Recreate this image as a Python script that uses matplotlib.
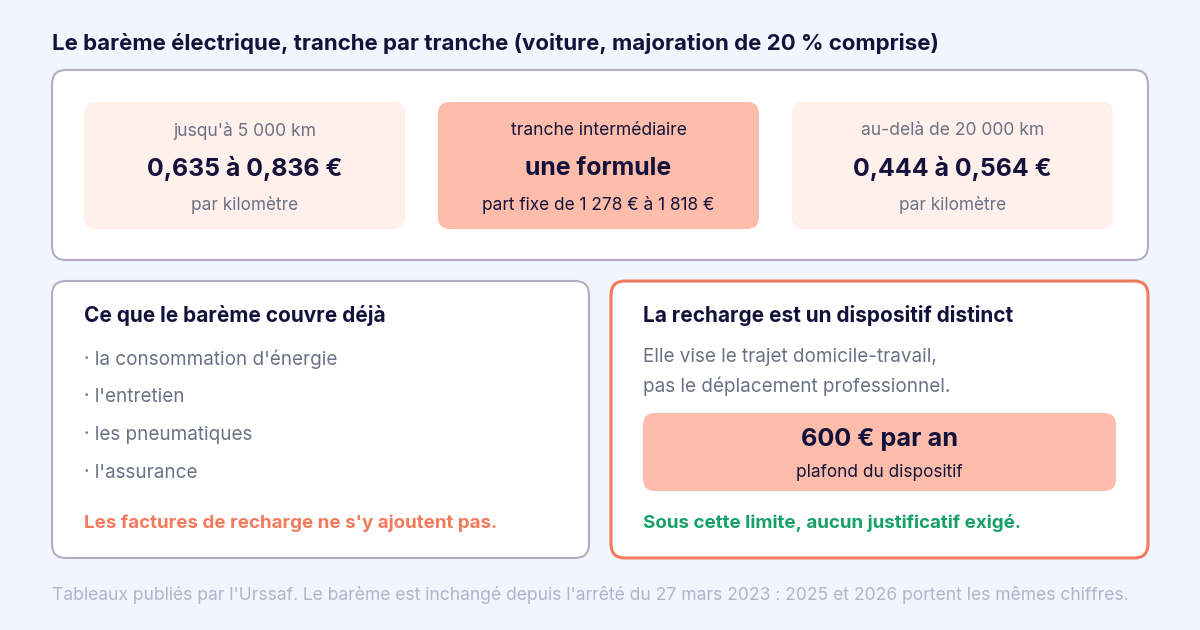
import matplotlib
matplotlib.use('Agg')
import matplotlib.pyplot as plt
from matplotlib.patches import FancyBboxPatch

plt.rcParams['font.family'] = ['Inter', 'DejaVu Sans']

title = "Le barème électrique, tranche par tranche (voiture, majoration de 20 % comprise)"
tile_labels = ["jusqu'à 5 000 km", "tranche intermédiaire", "au-delà de 20 000 km"]
tile_values = ["0,635 à 0,836 €", "une formule", "0,444 à 0,564 €"]
tile_subs = ["par kilomètre", "part fixe de 1 278 € à 1 818 €", "par kilomètre"]
covered_title = "Ce que le barème couvre déjà"
covered_items = ["la consommation d'énergie", "l'entretien", "les pneumatiques", "l'assurance"]
covered_note = "Les factures de recharge ne s'y ajoutent pas."
recharge_title = "La recharge est un dispositif distinct"
recharge_lines = ["Elle vise le trajet domicile-travail,", "pas le déplacement professionnel."]
cap_value = "600 € par an"
cap_label = "plafond du dispositif"
recharge_note = "Sous cette limite, aucun justificatif exigé."
footer = ("Tableaux publiés par l'Urssaf. Le barème est inchangé depuis l'arrêté du "
          "27 mars 2023 : 2025 et 2026 portent les mêmes chiffres.")

NAVY = '#14123a'
GRAY = '#6b7185'
BORDER = '#b3acc3'
ORANGE = '#f37a5c'
SALMON = '#febcab'
PINK = '#fff0ec'
GREEN = '#16a06a'

fig = plt.figure(figsize=(12, 6.3), dpi=100)
fig.patch.set_facecolor('#f1f5fe')
ax = fig.add_axes([0, 0, 1, 1])
ax.set_xlim(0, 1200)
ax.set_ylim(630, 0)
ax.axis('off')


def box(x0, y0, x1, y1, fc, ec='none', lw=0, r=12):
    ax.add_patch(FancyBboxPatch((x0 + r, y0 + r), x1 - x0 - 2 * r, y1 - y0 - 2 * r,
                                boxstyle=f"round,pad={r}", fc=fc, ec=ec, lw=lw))


ax.text(52, 43, title, fontsize=16, fontweight='bold', color=NAVY, va='center')

box(52, 70, 1148, 260, 'white', BORDER, 1.5, 14)
for i, x0 in enumerate([84, 438, 792]):
    box(x0, 102, x0 + 321, 229, SALMON if i == 1 else PINK, r=12)
    cx = x0 + 160.5
    ax.text(cx, 130.5, tile_labels[i], fontsize=12.6, color=NAVY if i == 1 else GRAY,
            ha='center', va='center')
    ax.text(cx, 168.5, tile_values[i], fontsize=17.9, fontweight='bold', color=NAVY,
            ha='center', va='center')
    ax.text(cx, 205.5, tile_subs[i], fontsize=12.4, color=NAVY if i == 1 else GRAY,
            ha='center', va='center')

box(52, 281, 589, 558, 'white', BORDER, 1.5, 14)
ax.text(84, 315.5, covered_title, fontsize=15, fontweight='bold', color=NAVY, va='center')
for k, item in enumerate(covered_items):
    ax.text(84, 359.5 + k * 37.7, "· " + item, fontsize=13.6, color=GRAY, va='center')
ax.text(84, 523.5, covered_note, fontsize=13.5, fontweight='bold', color=ORANGE, va='center')

box(611, 281, 1148, 558, 'white', ORANGE, 2.2, 14)
ax.text(643, 315.5, recharge_title, fontsize=15, fontweight='bold', color=NAVY, va='center')
for k, line in enumerate(recharge_lines):
    ax.text(643, 356.5 + k * 30, line, fontsize=13.6, color=GRAY, va='center')
box(643, 413, 1116, 491, SALMON, r=12)
ax.text(879.5, 439.5, cap_value, fontsize=18.2, fontweight='bold', color=NAVY,
        ha='center', va='center')
ax.text(879.5, 472.5, cap_label, fontsize=12.4, color=NAVY, ha='center', va='center')
ax.text(643, 523.5, recharge_note, fontsize=13.5, fontweight='bold', color=GREEN, va='center')

ax.text(52, 594.5, footer, fontsize=12.6, color='#b1b5c9', va='center')

fig.savefig('out.png', dpi=100)
